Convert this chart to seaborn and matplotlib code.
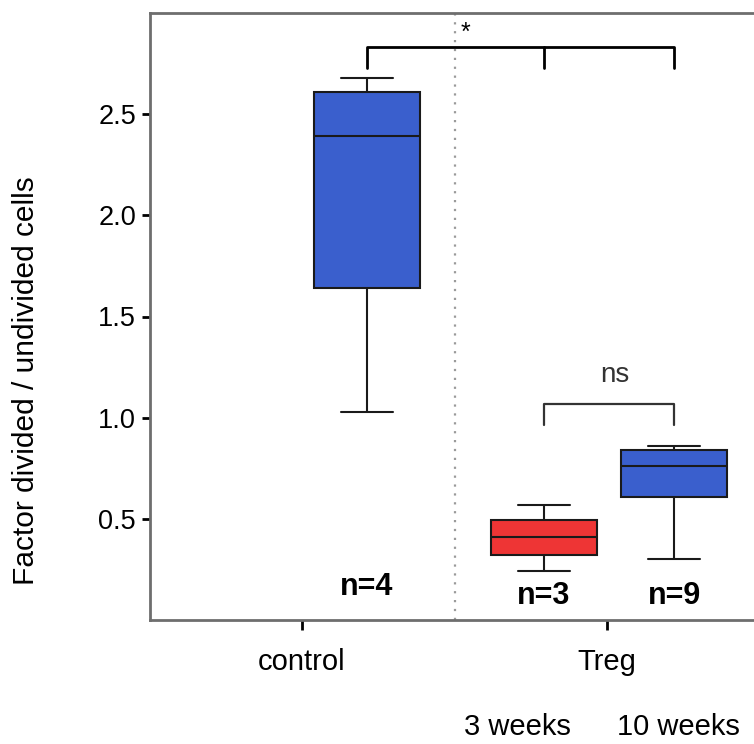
import numpy as np
import pandas as pd
import matplotlib
matplotlib.use("Agg")
import matplotlib.pyplot as plt
import matplotlib.transforms as mtransforms
import seaborn as sns

# Five-number summaries (min, Q1, median, Q3, max)
groups = ["control", "3 weeks", "10 weeks"]
control_vals = [1.03, 1.64, 2.39, 2.61, 2.68]
treg_3wk_vals = [0.24, 0.32, 0.41, 0.495, 0.57]
treg_10wk_vals = [0.30, 0.61, 0.76, 0.84, 0.86]
n_labels = ["n=4", "n=3", "n=9"]
box_colors = ["#3A5FCD", "#EE3535", "#3A5FCD"]
y_ticks = [0.5, 1.0, 1.5, 2.0, 2.5]
x_tick_labels = ["control", "Treg"]

# layout (x in axis units, 1 unit ~ 100 px)
box_pos = {"control": 2.17, "3 weeks": 3.94, "10 weeks": 5.24}
x_tick_pos = [1.52, 4.57]

df = pd.DataFrame({
    "group": np.repeat(groups, 5),
    "value": control_vals + treg_3wk_vals + treg_10wk_vals,
})
df["pos"] = df["group"].map(box_pos)

sns.set_style("white")
plt.rcParams["font.family"] = ["Liberation Sans", "DejaVu Sans"]
plt.rcParams["text.color"] = "black"
plt.rcParams["xtick.color"] = "black"
plt.rcParams["ytick.color"] = "black"
plt.rcParams["axes.labelcolor"] = "black"

fig = plt.figure(figsize=(7.54, 7.44), dpi=100)
ax = fig.add_axes([150 / 754, 124 / 744, 604 / 754, 607 / 744])

sns.boxplot(data=df, x="pos", y="value", hue="group", hue_order=groups,
            palette=dict(zip(groups, box_colors)), native_scale=True,
            width=0.81, whis=(0, 100), saturation=1, linecolor="#1a1a1a",
            linewidth=1.5, fliersize=0, legend=False, ax=ax)

ax.set_xlim(0, 6.04)
ax.set_ylim(0, 3.0)

# dotted separator
ax.axvline(3.05, color="#9a9a9a", linestyle=(0, (1, 3)), linewidth=1.6)

# significance brackets
xc, x3, x10 = box_pos["control"], box_pos["3 weeks"], box_pos["10 weeks"]
ax.plot([xc, xc, x10, x10], [2.73, 2.83, 2.83, 2.73], color="black", lw=2)
ax.plot([x3, x3], [2.83, 2.73], color="black", lw=2)
ax.text(3.15, 2.90, "*", ha="center", va="center", fontsize=18)
ax.plot([x3, x3, x10, x10], [0.965, 1.07, 1.07, 0.965], color="#333333", lw=1.6)
ax.text(4.65, 1.21, "ns", ha="center", va="center", fontsize=20, color="#333333")

# sample sizes
for g, lab, yy in zip(groups, n_labels, [0.165, 0.12, 0.12]):
    ax.text(box_pos[g], yy, lab, ha="center", va="center", fontsize=22,
            fontweight="bold")

# axes styling
ax.set_yticks(y_ticks)
ax.set_yticklabels([f"{t:.1f}" for t in y_ticks])
ax.set_xticks(x_tick_pos)
ax.set_xticklabels(x_tick_labels)
ax.set_xlabel("")
ax.set_ylabel("Factor divided / undivided cells", fontsize=21.5)
ax.yaxis.set_label_coords(-0.182, 0.395)
ax.tick_params(axis="y", length=6, width=2, labelsize=19.5, pad=4, left=True)
ax.tick_params(axis="x", length=7, width=2, labelsize=21, pad=13, bottom=True)
for side in ["left", "bottom", "top"]:
    ax.spines[side].set_color("#6e6e6e")
    ax.spines[side].set_linewidth(2)
ax.spines["right"].set_visible(False)

trans = mtransforms.blended_transform_factory(ax.transData, ax.transAxes)
ax.text(3.67, -0.176, "3 weeks", transform=trans, ha="center", va="center", fontsize=21)
ax.text(5.28, -0.176, "10 weeks", transform=trans, ha="center", va="center", fontsize=21)

fig.savefig("out.png", dpi=100)
